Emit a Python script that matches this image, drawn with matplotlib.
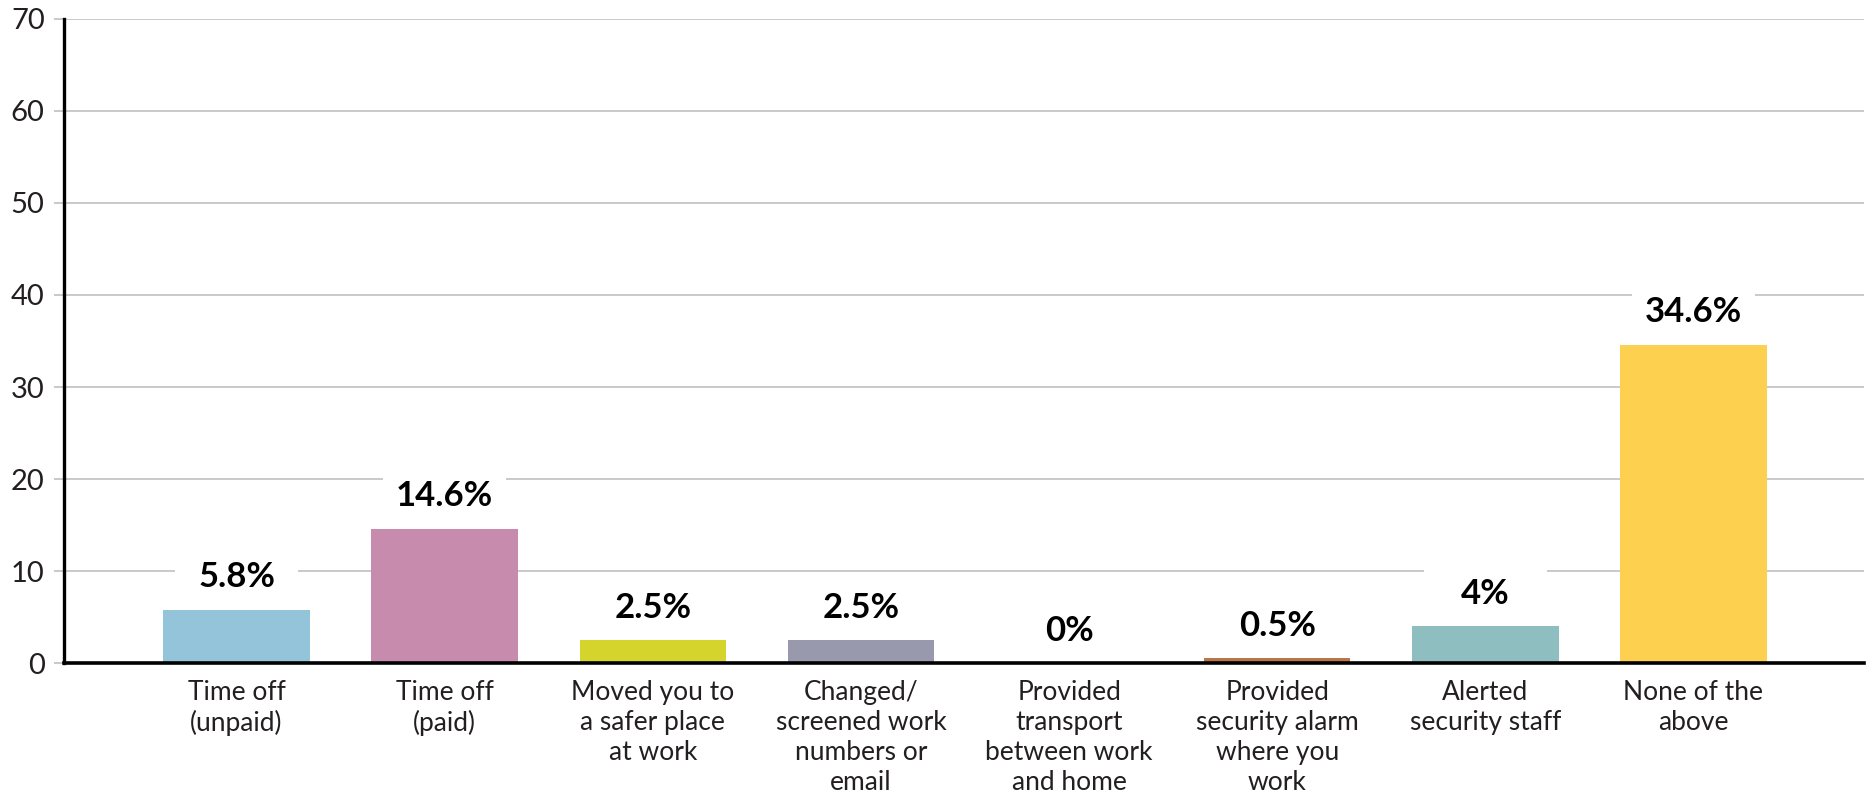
import matplotlib
matplotlib.use("Agg")
import matplotlib.pyplot as plt
from matplotlib.patches import Rectangle

categories = [
    "Time off\n(unpaid)",
    "Time off\n(paid)",
    "Moved you to\na safer place\nat work",
    "Changed/\nscreened work\nnumbers or\nemail",
    "Provided\ntransport\nbetween work\nand home",
    "Provided\nsecurity alarm\nwhere you\nwork",
    "Alerted\nsecurity staff",
    "None of the\nabove",
]
values = [5.8, 14.6, 2.5, 2.5, 0.0, 0.5, 4.0, 34.6]
value_labels = ["5.8%", "14.6%", "2.5%", "2.5%", "0%", "0.5%", "4%", "34.6%"]
colors = ["#93C4DA", "#C68BAD", "#D5D42C", "#9899AC", "#FFFFFF",
          "#B8764A", "#8FBEC1", "#FDD04F"]
y_ticks = [0, 10, 20, 30, 40, 50, 60, 70]

fig = plt.figure(figsize=(18.68, 7.91), dpi=100)
ax = fig.add_axes([0.0343, 0.1618, 0.9636, 0.8142])

x = list(range(len(categories)))
ax.bar(x, values, width=0.704, color=colors, zorder=2)

# value labels sit on white boxes that interrupt the gridlines
label_offset = 3.5
box_half_h = 2.6
box_w = 0.59
for xi, v, lab in zip(x, values, value_labels):
    yc = v + label_offset
    ax.add_patch(Rectangle((xi - box_w / 2, yc - box_half_h), box_w,
                           2 * box_half_h, facecolor="white",
                           edgecolor="none", zorder=1))
    ax.text(xi, yc, lab, ha="center", va="center", fontsize=25,
            fontweight="bold", family=["Lato", "DejaVu Sans"],
            color="black", zorder=3)

ax.set_xlim(-0.829, 7.82)
ax.set_ylim(0, 70)
ax.set_yticks(y_ticks)
ax.set_xticks(x)
ax.set_xticklabels(categories, family=["Lato", "DejaVu Sans"], fontsize=19,
                   color="#231F20", linespacing=1.25, va="top")
ax.set_yticklabels([str(t) for t in y_ticks], family=["Lato", "DejaVu Sans"],
                   fontsize=21, color="#231F20")

ax.yaxis.grid(True, color="#C9C9C9", linewidth=1.4, zorder=0)
ax.set_axisbelow(True)
ax.tick_params(axis="y", length=7, width=1.4, color="#C9C9C9", pad=7)
ax.tick_params(axis="x", length=0, pad=12)

for side in ("top", "right"):
    ax.spines[side].set_visible(False)
ax.spines["left"].set_color("black")
ax.spines["left"].set_linewidth(2.4)
ax.spines["bottom"].set_color("black")
ax.spines["bottom"].set_linewidth(2.6)
ax.spines["left"].set_zorder(4)
ax.spines["bottom"].set_zorder(4)

fig.savefig("out.png", dpi=100, facecolor="white")
